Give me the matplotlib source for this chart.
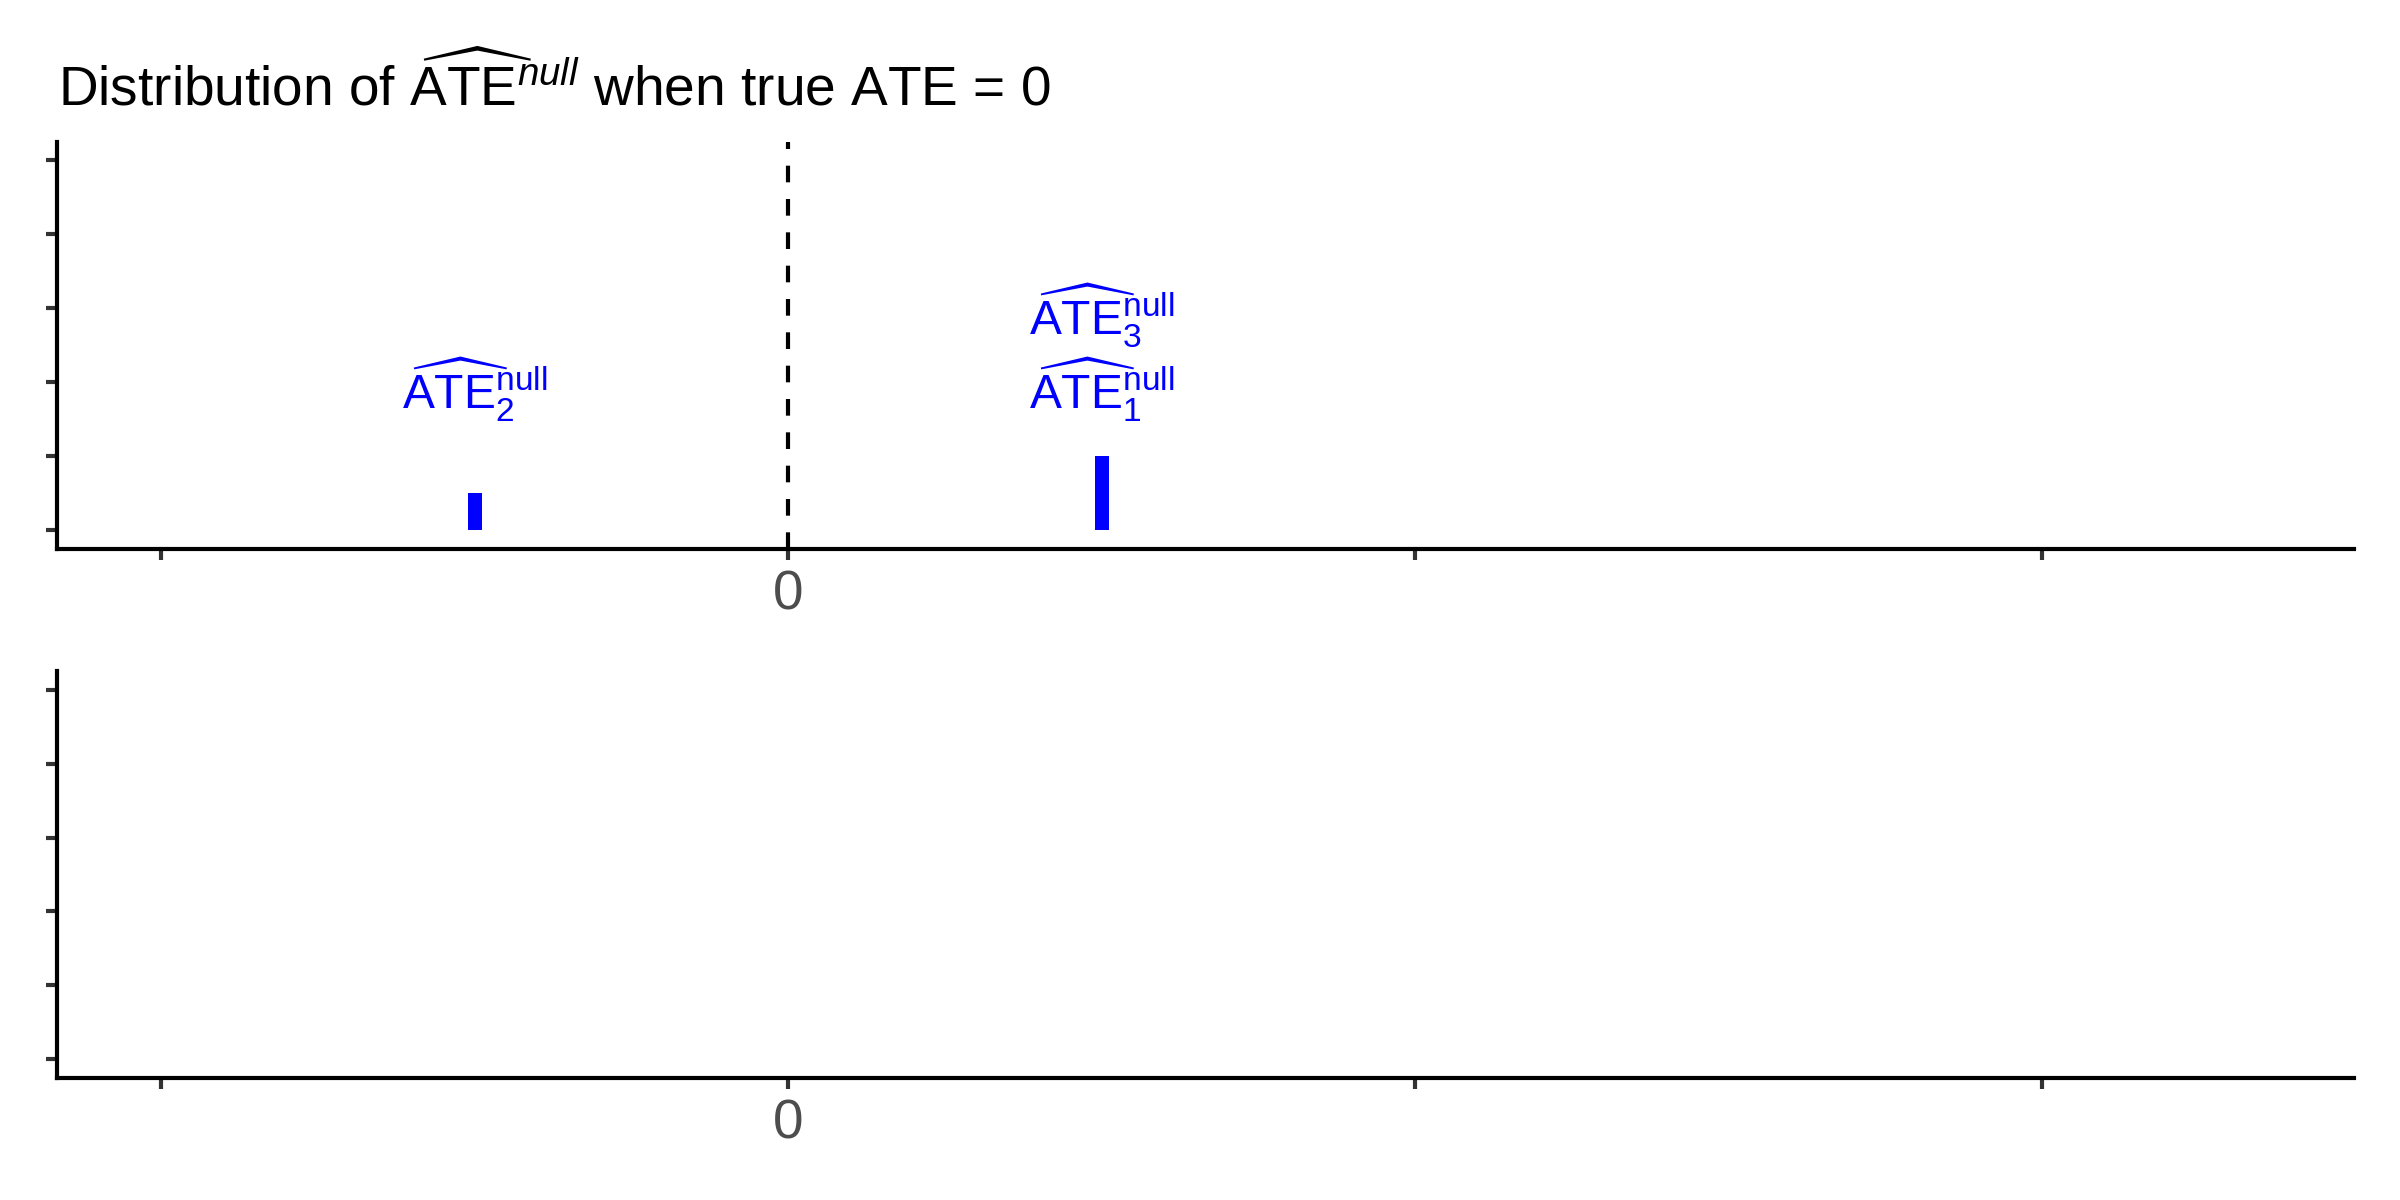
import matplotlib
matplotlib.use("Agg")
import matplotlib.pyplot as plt

plt.rcParams['font.family'] = ['Liberation Sans', 'DejaVu Sans']
plt.rcParams['mathtext.fontset'] = 'custom'
plt.rcParams['mathtext.rm'] = 'Liberation Sans'
plt.rcParams['mathtext.it'] = 'Liberation Sans:italic'
plt.rcParams['mathtext.bf'] = 'Liberation Sans:bold'

# data
bar_x = [-0.5, 0.5]
bar_h = [0.5, 1.0]
label_x = [0.5, -0.5, 0.5]
label_y = [1.9, 1.9, 2.9]
label_text = [r'$\widehat{\mathrm{ATE}}_{1}^{\mathrm{null}}$',
              r'$\widehat{\mathrm{ATE}}_{2}^{\mathrm{null}}$',
              r'$\widehat{\mathrm{ATE}}_{3}^{\mathrm{null}}$']
x_ticks = [-1, 0, 1, 2]
x_ticklabels = ['', '0', '', '']
y_ticks = [0, 1, 2, 3, 4, 5]
xlim = (-1.166, 2.497)
ylim = (-0.25, 5.25)

fig = plt.figure(figsize=(8, 4), dpi=300)
ax1 = fig.add_axes([0.02375, 0.5425, 0.9808 - 0.02375, 0.8817 - 0.5425])
ax2 = fig.add_axes([0.02375, 0.1017, 0.9808 - 0.02375, 0.4408 - 0.1017])

for ax in (ax1, ax2):
    ax.set_xlim(*xlim)
    ax.set_ylim(*ylim)
    ax.set_xticks(x_ticks)
    ax.set_xticklabels(x_ticklabels)
    ax.set_yticks(y_ticks)
    ax.set_yticklabels([''] * len(y_ticks))
    for s in ('top', 'right'):
        ax.spines[s].set_visible(False)
    for s in ('left', 'bottom'):
        ax.spines[s].set_linewidth(1.0)
        ax.spines[s].set_color('black')
    ax.tick_params(length=2.75, width=1.0, color='#333333', pad=2.2,
                   labelsize=13.2, labelcolor='#4D4D4D')

ax1.axvline(0, color='black', lw=1.0, ls=(0, (4, 4)), zorder=1)
ax1.bar(bar_x, bar_h, width=0.022, color='blue', zorder=2)
for x, y, t in zip(label_x, label_y, label_text):
    ax1.text(x, y, t, color='blue', fontsize=11.5, ha='center', va='center')

fig.text(0.024, 0.9125,
         r'Distribution of $\widehat{\mathrm{ATE}}^{null}$ when true ATE = 0',
         fontsize=13.2, color='black', ha='left', va='baseline')

fig.savefig('out.png', dpi=300, facecolor='white')
